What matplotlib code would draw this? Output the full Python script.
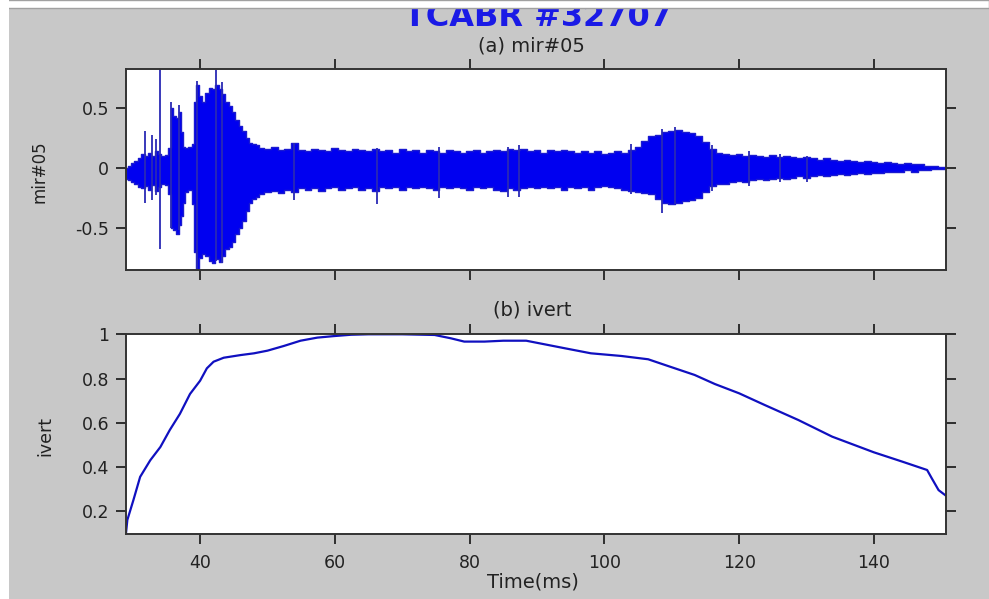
import numpy as np
import matplotlib
matplotlib.use("Agg")
import matplotlib.pyplot as plt
from matplotlib.patches import Rectangle

plt.rcParams['axes.unicode_minus'] = False
plt.rcParams['font.family'] = ['DejaVu Sans']

# (a) mir#05 : envelope of the signal (ms, upper, lower)
t_env = [29.0, 29.5, 30.0, 30.5, 31.0, 31.5, 32.0, 32.5, 33.0, 33.5, 34.0, 34.5, 35.0, 35.5,
         35.8, 36.2, 36.6, 37.0, 37.3, 37.6, 38.0, 38.5, 39.0, 39.3, 39.6, 40.0, 40.5, 41.0,
         41.5, 42.0, 42.5, 43.0, 43.5, 44.0, 44.5, 45.0, 45.5, 46.0, 46.5, 47.0, 47.5, 48.0,
         48.5, 49, 50, 51, 52, 53, 54, 55, 56, 57, 58, 59, 60, 61, 62, 63, 64, 65, 66, 67, 68,
         69, 70, 71, 72, 73, 74, 75, 76, 77, 78, 79, 80, 81, 82, 83, 84, 85, 86, 87, 88, 89,
         90, 91, 92, 93, 94, 95, 96, 97, 98, 99, 100, 101, 102, 103, 104, 105, 106, 107, 108,
         109, 110, 111, 112, 113, 114, 115, 116, 117, 118, 119, 120, 121, 122, 123, 124, 125,
         126, 127, 128, 129, 130, 131, 132, 133, 134, 135, 136, 137, 138, 139, 140, 141, 142,
         143, 144, 145, 146, 147, 148, 149, 150, 150.7]
up_env = [0.00, 0.02, 0.04, 0.06, 0.08, 0.12, 0.10, 0.13, 0.10, 0.14, 0.12, 0.10, 0.11, 0.17,
          0.50, 0.44, 0.42, 0.47, 0.30, 0.18, 0.17, 0.18, 0.20, 0.55, 0.70, 0.60, 0.55, 0.63,
          0.67, 0.66, 0.70, 0.66, 0.62, 0.55, 0.52, 0.47, 0.40, 0.35, 0.31, 0.25, 0.21, 0.20,
          0.19, 0.17, 0.16, 0.18, 0.15, 0.16, 0.21, 0.15, 0.14, 0.16, 0.15, 0.14, 0.17, 0.15,
          0.14, 0.16, 0.15, 0.14, 0.16, 0.14, 0.15, 0.13, 0.16, 0.14, 0.15, 0.13, 0.15, 0.14,
          0.13, 0.15, 0.14, 0.13, 0.14, 0.15, 0.13, 0.14, 0.15, 0.14, 0.16, 0.15, 0.16, 0.14,
          0.15, 0.13, 0.15, 0.14, 0.15, 0.14, 0.13, 0.14, 0.13, 0.14, 0.12, 0.13, 0.14, 0.13,
          0.15, 0.18, 0.23, 0.27, 0.28, 0.30, 0.31, 0.32, 0.30, 0.29, 0.27, 0.22, 0.16, 0.13,
          0.12, 0.11, 0.12, 0.10, 0.11, 0.10, 0.09, 0.11, 0.09, 0.10, 0.09, 0.08, 0.09, 0.08,
          0.07, 0.08, 0.07, 0.06, 0.07, 0.06, 0.05, 0.06, 0.05, 0.04, 0.05, 0.04, 0.03, 0.04,
          0.03, 0.03, 0.02, 0.015, 0.01, 0.005]
lo_env = [-0.09, -0.10, -0.12, -0.13, -0.16, -0.17, -0.15, -0.18, -0.14, -0.19, -0.16, -0.13,
          -0.14, -0.22, -0.50, -0.52, -0.55, -0.48, -0.40, -0.29, -0.20, -0.18, -0.30, -0.70,
          -0.85, -0.75, -0.72, -0.74, -0.78, -0.80, -0.76, -0.79, -0.74, -0.68, -0.66, -0.62,
          -0.55, -0.50, -0.44, -0.36, -0.29, -0.26, -0.24, -0.22, -0.20, -0.19, -0.21, -0.18,
          -0.20, -0.17, -0.18, -0.17, -0.19, -0.17, -0.16, -0.18, -0.17, -0.16, -0.18, -0.17,
          -0.19, -0.16, -0.17, -0.16, -0.18, -0.16, -0.17, -0.16, -0.17, -0.18, -0.16, -0.17,
          -0.16, -0.17, -0.18, -0.16, -0.17, -0.16, -0.18, -0.19, -0.17, -0.18, -0.17, -0.16,
          -0.17, -0.16, -0.17, -0.16, -0.18, -0.16, -0.17, -0.16, -0.18, -0.16, -0.15, -0.16,
          -0.17, -0.18, -0.19, -0.20, -0.21, -0.22, -0.26, -0.29, -0.30, -0.29, -0.28, -0.27,
          -0.25, -0.20, -0.15, -0.13, -0.13, -0.12, -0.11, -0.12, -0.10, -0.09, -0.10, -0.09,
          -0.08, -0.09, -0.08, -0.07, -0.08, -0.07, -0.06, -0.07, -0.06, -0.05, -0.06, -0.05,
          -0.04, -0.05, -0.04, -0.04, -0.03, -0.03, -0.03, -0.02, -0.03, -0.02, -0.015, -0.01,
          -0.005, -0.005]

# single spikes sticking out of the envelope
t_sp = [31.8, 32.8, 33.5, 34.1, 35.7, 36.9, 39.6, 42.4, 43.2, 53.9, 66.3, 75.5, 85.7, 87.4,
        104.0, 108.5, 110.5, 116.0, 121.5, 126.0, 130.0]
sp_top = [0.31, 0.28, 0.24, 0.83, 0.55, 0.53, 0.73, 0.82, 0.72, 0.21, 0.17, 0.18, 0.18, 0.19,
          0.20, 0.33, 0.34, 0.19, 0.14, 0.12, 0.10]
sp_bot = [-0.29, -0.27, -0.23, -0.68, -0.50, -0.52, -0.86, -0.78, -0.80, -0.27, -0.30, -0.25,
          -0.24, -0.24, -0.22, -0.38, -0.30, -0.19, -0.15, -0.12, -0.12]

# (b) ivert
t_iv = [29.0, 29.2, 30.1, 31.1, 32.6, 34.1, 35.5, 37.0, 38.5, 40.0, 41.0, 42.0, 43.5, 46.0,
        48.0, 50.0, 52.4, 54.9, 57.4, 59.9, 62.4, 65.0, 70.0, 74.8, 77.2, 79.2, 82.2, 85.0,
        88.4, 94.1, 98.0, 102.5, 106.5, 109.4, 113.4, 116.4, 120.0, 123.8, 128.8, 133.8,
        140.0, 144.2, 147.9, 148.6, 149.6, 150.9]
iv = [0.10, 0.16, 0.25, 0.355, 0.43, 0.49, 0.567, 0.64, 0.73, 0.79, 0.846, 0.876, 0.894,
      0.906, 0.914, 0.926, 0.947, 0.971, 0.985, 0.992, 0.998, 1.0, 1.0, 0.997, 0.982, 0.967,
      0.967, 0.971, 0.971, 0.937, 0.914, 0.902, 0.887, 0.857, 0.816, 0.775, 0.733, 0.68,
      0.612, 0.537, 0.466, 0.424, 0.386, 0.348, 0.295, 0.265]

xticks = [40, 60, 80, 100, 120, 140]
yticks1 = [-0.5, 0, 0.5]
ylabels1 = ["-0.5", "0", "0.5"]
yticks2 = [0.2, 0.4, 0.6, 0.8, 1.0]
ylabels2 = ["0.2", "0.4", "0.6", "0.8", "1"]

fig = plt.figure(figsize=(9.89, 5.99), dpi=100, facecolor='#c8c8c8')
ax1 = fig.add_axes([0.1274, 0.5492, 0.8291, 0.3356])
ax2 = fig.add_axes([0.1274, 0.1080, 0.8291, 0.3339])

ax1.fill_between(t_env, lo_env, up_env, step='mid', facecolor='#0000f0',
                 edgecolor='#1a1ad0', lw=1.0)
ax1.vlines(t_sp, sp_bot, sp_top, color='#2a2ab4', lw=1.3)
ax1.set_xlim(29, 150.7)
ax1.set_ylim(-0.855, 0.83)
ax1.set_yticks(yticks1, ylabels1)

ax2.plot(t_iv, iv, color='#1010c0', lw=1.6)
ax2.set_xlim(29, 150.7)
ax2.set_ylim(0.095, 1.0)
ax2.set_yticks(yticks2, ylabels2)

for ax in (ax1, ax2):
    ax.set_xticks(xticks)
    ax.tick_params(direction='out', top=True, right=True, length=7, width=1.3,
                   labelsize=12.5, pad=5, colors='#222222')
    for s in ax.spines.values():
        s.set_linewidth(1.4)
        s.set_color('#333333')
ax1.tick_params(labelbottom=False)
ax2.tick_params(axis='x', pad=7)

ax1.text(-0.106, 0.487, "mir#05", transform=ax1.transAxes, rotation=90,
         ha='center', va='center', fontsize=12, color='#222222')
ax2.text(-0.098, 0.49, "ivert", transform=ax2.transAxes, rotation=90,
         ha='center', va='center', fontsize=12.5, color='#222222')

fig.text(538/989, 1 - 26/599, "TCABR #32707", ha='center', va='baseline', fontsize=23,
         fontweight='bold', color='#1a1ae6')
fig.text(531/989, 1 - 52/599, "(a) mir#05", ha='center', va='baseline', fontsize=14,
         color='#222222')
fig.text(532/989, 1 - 315/599, "(b) ivert", ha='center', va='baseline', fontsize=14,
         color='#222222')
fig.text(533/989, 1 - 582/599, "Time(ms)", ha='center', va='center', fontsize=14,
         color='#222222')

# white border of the screenshot (top and left)
fig.add_artist(Rectangle((0, 1 - 8/599), 1, 8/599, transform=fig.transFigure,
                         facecolor='white', edgecolor='#a0a0a0', lw=1, zorder=10))
fig.add_artist(Rectangle((0, 0), 9/989, 1, transform=fig.transFigure,
                         facecolor='white', edgecolor='none', zorder=11))

fig.savefig("out.png", dpi=100, facecolor=fig.get_facecolor())
